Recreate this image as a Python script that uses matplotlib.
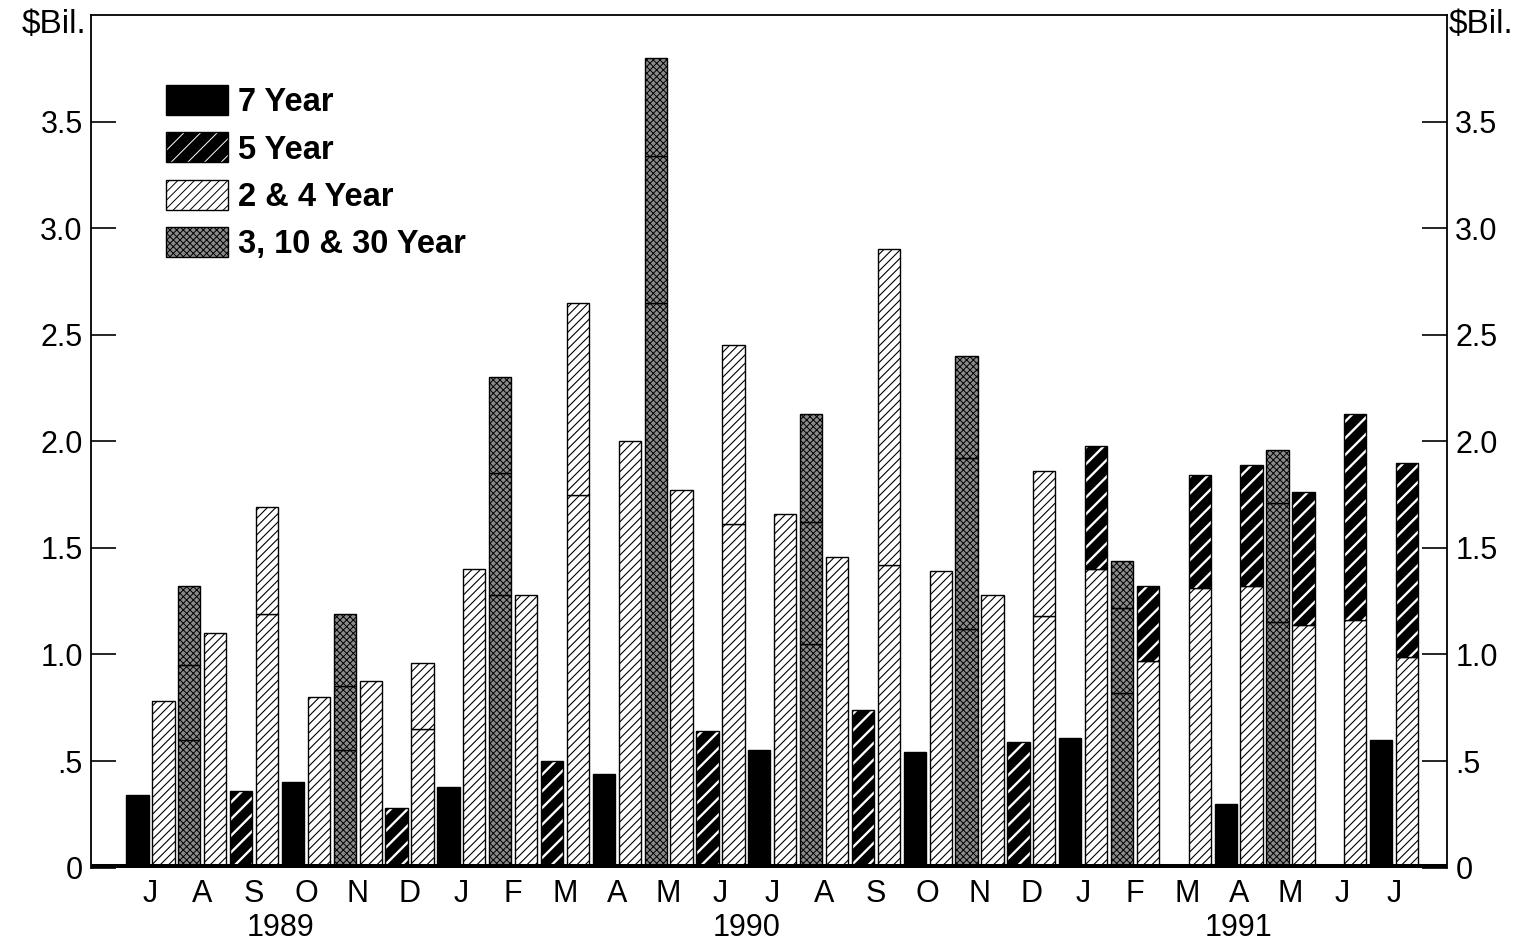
import matplotlib
matplotlib.use('Agg')
import matplotlib.pyplot as plt
from matplotlib.patches import Patch
from matplotlib.legend_handler import HandlerTuple
from matplotlib.transforms import blended_transform_factory

plt.rcParams['font.family'] = ['Liberation Sans', 'DejaVu Sans']

# ---------------- data ----------------
months = ['J', 'A', 'S', 'O', 'N', 'D',
          'J', 'F', 'M', 'A', 'M', 'J', 'J', 'A', 'S', 'O', 'N', 'D',
          'J', 'F', 'M', 'A', 'M', 'J', 'J']
years = ['1989', '1990', '1991']
year_index = [0] * 6 + [1] * 12 + [2] * 7

# left bar of each month
seven_year = [0.34, 0, 0, 0.40, 0, 0, 0.38, 0, 0, 0.44, 0, 0, 0.55, 0, 0,
              0.54, 0, 0, 0.61, 0, 0, 0.30, 0, 0, 0.60]
five_year_alone = [0, 0, 0.36, 0, 0, 0.28, 0, 0, 0.50, 0, 0, 0.64, 0, 0, 0.74,
                   0, 0, 0.59, 0, 0, 0, 0, 0, 0, 0]
three_year = [0, 0.60, 0, 0, 0.55, 0, 0, 1.28, 0, 0, 2.65, 0, 0, 1.05, 0,
              0, 1.12, 0, 0, 0.82, 0, 0, 1.15, 0, 0]
ten_year = [0, 0.35, 0, 0, 0.30, 0, 0, 0.57, 0, 0, 0.69, 0, 0, 0.57, 0,
            0, 0.80, 0, 0, 0.40, 0, 0, 0.56, 0, 0]
thirty_year = [0, 0.37, 0, 0, 0.34, 0, 0, 0.45, 0, 0, 0.46, 0, 0, 0.51, 0,
               0, 0.48, 0, 0, 0.22, 0, 0, 0.25, 0, 0]

# right bar of each month
two_year = [0.78, 1.10, 1.19, 0.80, 0.875, 0.65, 1.40, 1.28, 1.75, 2.00, 1.77,
            1.61, 1.66, 1.455, 1.42, 1.39, 1.28, 1.18, 1.40, 0.97, 1.31, 1.32,
            1.14, 1.16, 0.99]
four_year = [0, 0, 0.50, 0, 0, 0.31, 0, 0, 0.90, 0, 0, 0.84, 0, 0, 1.48,
             0, 0, 0.68, 0, 0, 0, 0, 0, 0, 0]
five_year_stacked = [0, 0, 0, 0, 0, 0, 0, 0, 0, 0, 0, 0, 0, 0, 0, 0, 0, 0,
                     0.58, 0.35, 0.53, 0.57, 0.62, 0.97, 0.91]

ytick_vals = [0, 0.5, 1.0, 1.5, 2.0, 2.5, 3.0, 3.5]
ytick_labels = ['0', '.5', '1.0', '1.5', '2.0', '2.5', '3.0', '3.5']
legend_labels = ['7 Year', '5 Year', '2 & 4 Year', '3, 10 & 30 Year']

# ---------------- styles ----------------
W = 0.86
EDGE_LW = 1.0
STYLE_7 = dict(facecolor='black', edgecolor='black', linewidth=EDGE_LW)
STYLE_5 = dict(facecolor='black', edgecolor='white', linewidth=0, hatch='//')
STYLE_5_OUT = dict(fill=False, edgecolor='black', linewidth=EDGE_LW)
STYLE_24 = dict(facecolor='white', edgecolor='black', linewidth=EDGE_LW, hatch='////')
STYLE_REF = dict(facecolor='#8a8a8a', edgecolor='black', linewidth=EDGE_LW, hatch='xxxxx')
HLW_5 = 1.7
HLW_24 = 0.8
HLW_REF = 0.7


def set_hlw(artists, w):
    for a in artists:
        if hasattr(a, 'set_hatch_linewidth'):
            a.set_hatch_linewidth(w)
        else:
            a._hatch_linewidth = w


fig = plt.figure(figsize=(15.26, 9.48), dpi=100)
ax = fig.add_axes([91 / 1526, (948 - 867.6) / 948, (1447 - 91) / 1526, (867.6 - 15) / 948])

n = len(months)
left_x = [2 * i for i in range(n)]
right_x = [2 * i + 1 for i in range(n)]


def bars(xs, heights, bottoms, style, hlw=None):
    sel = [(x, h, b) for x, h, b in zip(xs, heights, bottoms) if h > 0]
    if not sel:
        return []
    if hlw is not None:
        plt.rcParams['hatch.linewidth'] = hlw
    cont = ax.bar([s[0] for s in sel], [s[1] for s in sel], width=W,
                  bottom=[s[2] for s in sel], zorder=2, **style)
    if hlw is not None:
        set_hlw(cont.patches, hlw)
    return cont.patches


zeros = [0] * n
# left slot
bars(left_x, seven_year, zeros, STYLE_7)
bars(left_x, five_year_alone, zeros, STYLE_5, HLW_5)
bars(left_x, five_year_alone, zeros, STYLE_5_OUT)
b1 = three_year
b2 = [a + b for a, b in zip(three_year, ten_year)]
bars(left_x, three_year, zeros, STYLE_REF, HLW_REF)
bars(left_x, ten_year, b1, STYLE_REF, HLW_REF)
bars(left_x, thirty_year, b2, STYLE_REF, HLW_REF)
# right slot
bars(right_x, two_year, zeros, STYLE_24, HLW_24)
bars(right_x, four_year, two_year, STYLE_24, HLW_24)
bars(right_x, five_year_stacked, two_year, STYLE_5, HLW_5)
bars(right_x, five_year_stacked, two_year, STYLE_5_OUT)

# thick baseline
ax.axhline(0, color='black', linewidth=6.5, zorder=5, solid_capstyle='butt')

ax.set_xlim(-1.795, 50.54)
ax.set_ylim(0, 4.0)
for side in ['left', 'right', 'top']:
    ax.spines[side].set_linewidth(1.3)
ax.spines['bottom'].set_visible(False)

ax.set_yticks(ytick_vals)
ax.set_yticklabels(ytick_labels)
ax.tick_params(axis='y', direction='in', length=18, width=1.2, labelsize=22,
               pad=6, left=True, right=True, labelleft=True, labelright=True)

month_centers = [2 * i + 0.5 for i in range(n)]
ax.set_xticks(month_centers)
ax.set_xticklabels(months)
ax.tick_params(axis='x', length=0, labelsize=22, pad=8)

trans = blended_transform_factory(ax.transData, ax.transAxes)
for yi, yl in enumerate(years):
    cs = [c for c, k in zip(month_centers, year_index) if k == yi]
    ax.text((min(cs) + max(cs)) / 2, -0.071, yl, transform=trans,
            ha='center', va='center', fontsize=22)

fig.text(86 / 1526, 1 - 24 / 948, r'\$Bil.', ha='right', va='center', fontsize=24)
fig.text(1449 / 1526, 1 - 24 / 948, r'\$Bil.', ha='left', va='center', fontsize=24)

# legend
plt.rcParams['hatch.linewidth'] = HLW_5
h7 = Patch(**STYLE_7)
h5a = Patch(**STYLE_5)
set_hlw([h5a], HLW_5)
h5b = Patch(**STYLE_5_OUT)
plt.rcParams['hatch.linewidth'] = HLW_24
h24 = Patch(**STYLE_24)
set_hlw([h24], HLW_24)
plt.rcParams['hatch.linewidth'] = HLW_REF
href = Patch(**STYLE_REF)
set_hlw([href], HLW_REF)
leg = ax.legend([h7, (h5a, h5b), h24, href], legend_labels,
                handler_map={tuple: HandlerTuple(ndivide=1, pad=0)},
                loc='upper left', bbox_to_anchor=(166 / 1526, 1 - 85 / 948),
                bbox_transform=fig.transFigure, frameon=False, borderpad=0,
                borderaxespad=0, handlelength=1.9, handleheight=1.03,
                handletextpad=0.3, labelspacing=0.44,
                prop={'size': 23.5, 'weight': 'bold'})

fig.savefig('out.png', dpi=100)
